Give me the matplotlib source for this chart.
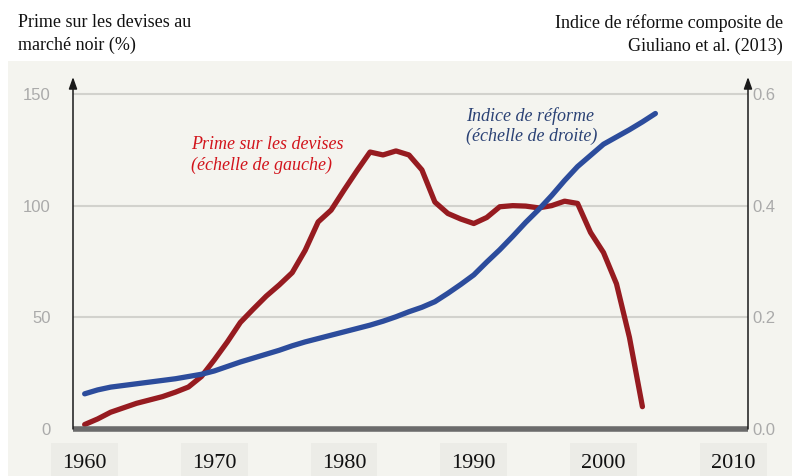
import matplotlib
matplotlib.use("Agg")
import matplotlib.pyplot as plt

# ---------------- data ----------------
years_prime = list(range(1960, 2004))
prime = [2, 4.5, 7.5, 9.5, 11.5, 13, 14.5, 16.5, 18.8, 23.5,
         31, 39, 47.7, 53.7, 59.5, 64.5, 70, 80, 92.7, 98,
         107, 115.7, 124, 122.7, 124.5, 122.7, 116, 101.6, 96.5, 94,
         92, 94.7, 99.5, 100, 99.8, 99, 100, 102, 101, 88,
         79, 65, 41, 10]

years_index = list(range(1960, 2005))
reform = [0.063, 0.07, 0.075, 0.078, 0.081, 0.084, 0.087, 0.09, 0.094, 0.098,
          0.104, 0.112, 0.12, 0.127, 0.134, 0.141, 0.149, 0.156, 0.162, 0.168,
          0.174, 0.18, 0.186, 0.193, 0.201, 0.21, 0.218, 0.228, 0.243, 0.259,
          0.276, 0.299, 0.321, 0.345, 0.37, 0.393, 0.418, 0.445, 0.47, 0.49,
          0.51, 0.523, 0.536, 0.55, 0.565]

x_ticks = [1960, 1970, 1980, 1990, 2000, 2010]
left_ticks = [0, 50, 100, 150]
right_ticks = [0.0, 0.2, 0.4, 0.6]

title_left = "Prime sur les devises au\nmarché noir (%)"
title_right = "Indice de réforme composite de\nGiuliano et al. (2013)"
label_prime = "Prime sur les devises\n(échelle de gauche)"
label_reform = "Indice de réforme\n(échelle de droite)"

# ---------------- figure ----------------
W, H = 792, 476
fig = plt.figure(figsize=(W / 100, H / 100), dpi=100)
fig.patch.set_facecolor("white")
panel_col = "#f4f4ef"
bg = fig.add_axes([8 / W, 0, 1 - 8 / W, (H - 61) / H], zorder=-5)
bg.set_facecolor(panel_col)
bg.set_xticks([])
bg.set_yticks([])
for s in bg.spines.values():
    s.set_visible(False)

ax = fig.add_axes([73 / W, 47 / H, (748 - 73) / W, (429 - 77) / H])
ax.set_facecolor("none")
ax.set_xlim(1959.1, 2011.14)
ax.set_ylim(0, 157.6)
ax2 = ax.twinx()
ax2.set_ylim(0, 157.6 * 0.6 / 150)
ax2.set_facecolor("none")

for a in (ax, ax2):
    for s in a.spines.values():
        s.set_visible(False)

# gridlines
for v in [50, 100, 150]:
    ax.axhline(v, color="#d2d2cd", lw=1.5, zorder=1)

# bottom thick line
ax.axhline(0, color="#6b6b6b", lw=4, zorder=5, clip_on=False, solid_capstyle="butt")

# arrow spines
for xf in (0, 1):
    ax.annotate("", xy=(xf, 1.0), xytext=(xf, 0.0), xycoords="axes fraction",
                arrowprops=dict(arrowstyle="-|>,head_length=0.7,head_width=0.25",
                                color="#1a1a1a", lw=1.1, shrinkA=0, shrinkB=0),
                zorder=6)

# series
ax.plot(years_prime, prime, color="#961b20", lw=3.8, solid_capstyle="round",
        solid_joinstyle="round", zorder=4)
ax2.plot(years_index, reform, color="#2c4c9c", lw=3.8, solid_capstyle="round",
         solid_joinstyle="round", zorder=3)

# ticks
ax.set_yticks(left_ticks)
ax.set_yticklabels([str(t) for t in left_ticks], fontfamily="Liberation Sans",
                   fontsize=12, color="#aaaaaa")
ax.tick_params(axis="y", length=0, pad=16)
ax2.set_yticks(right_ticks)
ax2.set_yticklabels(["%.1f" % t for t in right_ticks], fontfamily="Liberation Sans",
                    fontsize=12, color="#aaaaaa")
ax2.tick_params(axis="y", length=0, pad=3)

ax.set_xticks(x_ticks)
ax.set_xticklabels([str(t) for t in x_ticks], fontfamily="Liberation Serif",
                   fontsize=16, color="#111111")
ax.tick_params(axis="x", length=0, pad=18)
for lab in ax.get_xticklabels():
    lab.set_bbox(dict(facecolor="#ececE7", edgecolor="none", pad=8))

# labels
ax.text(1968.2, 131.0, label_prime, fontfamily="Liberation Serif", style="italic",
        fontsize=13, color="#d2141c", va="top", ha="left", linespacing=1.25)
ax.text(1989.4, 144.2, label_reform, fontfamily="Liberation Serif", style="italic",
        fontsize=13, color="#2b4275", va="top", ha="left", linespacing=1.25)

# titles
fig.text(18 / W, 1 - 14 / H, title_left, fontfamily="Liberation Serif", fontsize=13,
         color="#111111", ha="left", va="top", linespacing=1.45)
fig.text(783 / W, 1 - 14 / H, title_right, fontfamily="Liberation Serif", fontsize=13,
         color="#111111", ha="right", va="top", linespacing=1.45, multialignment="right")

fig.savefig("out.png", dpi=100, facecolor=fig.get_facecolor())
